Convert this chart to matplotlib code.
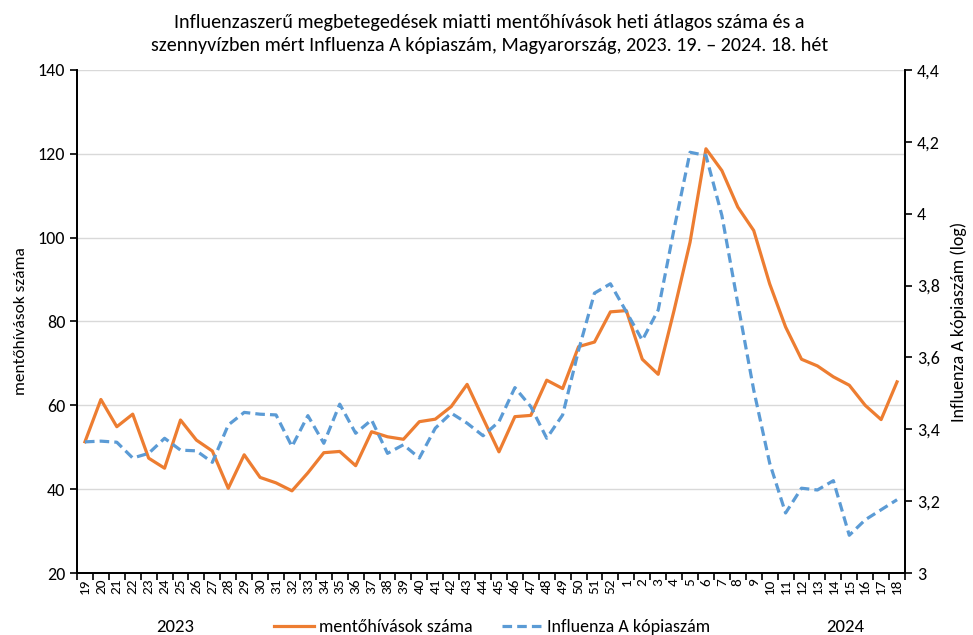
import matplotlib
matplotlib.use('Agg')
import matplotlib.pyplot as plt
import numpy as np

plt.rcParams['font.family'] = ['Carlito', 'Liberation Sans Narrow', 'Lato', 'DejaVu Sans']

# heti adatok, 2023. 19. het - 2024. 18. het
weeks = [str(w) for w in range(19, 53)] + [str(w) for w in range(1, 19)]

mentohivasok = [51.3, 61.4, 54.9, 57.9, 47.4, 45.0, 56.5, 51.7, 49.1, 40.2,
                48.2, 42.8, 41.5, 39.6, 43.9, 48.7, 49.0, 45.6, 53.7, 52.5,
                51.9, 56.1, 56.7, 59.7, 65.0, 56.9, 48.9, 57.3, 57.6, 66.0,
                64.0, 74.0, 75.1, 82.3, 82.6, 71.0, 67.4, 82.7, 98.9, 121.2,
                116.0, 107.3, 101.7, 89.0, 78.7, 71.0, 69.4, 66.8, 64.8, 60.0,
                56.6, 65.6]

influenza_a = [3.365, 3.367, 3.364, 3.320, 3.333, 3.375, 3.342, 3.340, 3.308, 3.412,
               3.447, 3.442, 3.440, 3.352, 3.438, 3.361, 3.470, 3.389, 3.426, 3.333,
               3.357, 3.320, 3.403, 3.445, 3.417, 3.382, 3.421, 3.516, 3.463, 3.375,
               3.440, 3.620, 3.779, 3.805, 3.727, 3.648, 3.732, 3.958, 4.171, 4.162,
               3.995, 3.750, 3.509, 3.306, 3.167, 3.236, 3.231, 3.257, 3.105, 3.148,
               3.176, 3.204]

left_ticks = [20, 40, 60, 80, 100, 120, 140]
right_ticks = [3.0, 3.2, 3.4, 3.6, 3.8, 4.0, 4.2, 4.4]
right_labels = ['3', '3,2', '3,4', '3,6', '3,8', '4', '4,2', '4,4']

orange = '#ED7D31'
blue = '#5B9BD5'

x = np.arange(len(weeks))

fig = plt.figure(figsize=(9.73, 6.35), dpi=100)
ax = fig.add_axes([77/973, 1 - 573/635, (905-77)/973, (573-70)/635])
ax2 = ax.twinx()

l1, = ax.plot(x, mentohivasok, color=orange, lw=2.3, label='mentőhívások száma', zorder=3)
l2, = ax2.plot(x, influenza_a, color=blue, lw=2.3, ls=(0, (3, 1.6)), label='Influenza A kópiaszám')

ax.set_ylim(20, 140)
ax.set_yticks(left_ticks)
ax.set_xlim(-0.5, len(weeks) - 0.5)
ax.grid(axis='y', color='#d9d9d9', lw=1)
ax.set_axisbelow(True)

ax2.set_ylim(3.0, 4.4)
ax2.set_yticks(right_ticks)
ax2.set_yticklabels(right_labels)

# category ticks between weeks, labels at centres
ax.set_xticks(x)
ax.set_xticklabels(weeks, rotation=90, fontsize=11)
ax.tick_params(axis='x', which='major', length=0, pad=4)
ax.set_xticks(np.arange(-0.5, len(weeks)), minor=True)
ax.tick_params(axis='x', which='minor', length=5, width=1.2, direction='out')

ax.tick_params(axis='y', labelsize=13, length=5, width=1.2)
ax2.tick_params(axis='y', labelsize=13, length=5, width=1.2)

for a in (ax, ax2):
    a.spines['top'].set_visible(False)
    for s in ('left', 'right', 'bottom'):
        a.spines[s].set_linewidth(1.3)
        a.spines[s].set_color('black')

ax.set_ylabel('mentőhívások száma', fontsize=12.5, labelpad=7)
ax2.set_ylabel('Influenza A kópiaszám (log)', fontsize=13, labelpad=8)

fig.suptitle('Influenzaszerű megbetegedések miatti mentőhívások heti átlagos száma és a\n'
             'szennyvízben mért Influenza A kópiaszám, Magyarország, 2023. 19. – 2024. 18. hét',
             fontsize=14.5, y=0.978, x=0.503, linespacing=1.45)

fig.text(175/973, 1 - 627/635, '2023', fontsize=13.5, ha='center', va='center')
fig.text(845/973, 1 - 627/635, '2024', fontsize=13.5, ha='center', va='center')
fig.legend(handles=[l1, l2], loc='center', bbox_to_anchor=(492/973, 1 - 627/635),
           ncol=2, frameon=False, fontsize=13, handlelength=2.2, columnspacing=1.6,
           handletextpad=0.3)

plt.savefig('out.png', dpi=100)
